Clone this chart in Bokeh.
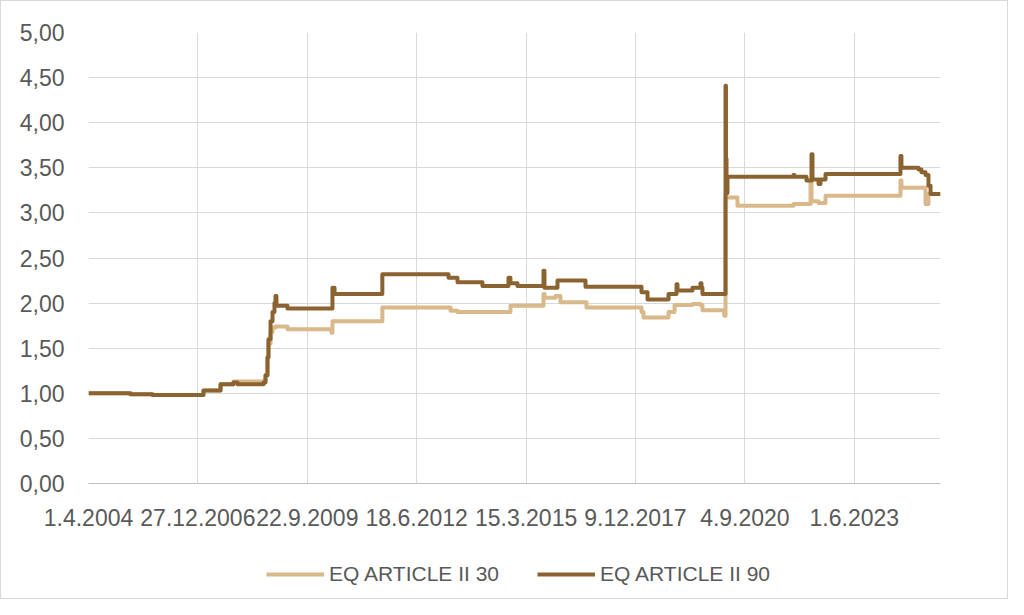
import pandas as pd
from bokeh.plotting import figure
from bokeh.layouts import column
from bokeh.models import Range1d, FixedTicker, Legend, LegendItem
from bokeh.embed import file_html
from bokeh.resources import INLINE

# ---- data ----
dates_30 = ["2004-04-01", "2005-04-20", "2005-11-07", "2007-02-16", "2007-07-22", "2007-11-17",
            "2008-08-18", "2008-09-05", "2008-09-23", "2008-10-02", "2008-10-21", "2008-11-08",
            "2008-12-05", "2009-03-25", "2010-05-01", "2010-05-10", "2011-08-09", "2013-04-23",
            "2013-06-26", "2014-10-23", "2015-08-21", "2015-08-30", "2015-12-09", "2016-01-23",
            "2016-09-17", "2018-02-02", "2018-02-20", "2018-10-07", "2018-12-01", "2019-05-14",
            "2019-07-26", "2019-08-13", "2020-02-28", "2020-03-11", "2020-06-28", "2021-11-22",
            "2022-04-27", "2022-05-06", "2022-07-09", "2022-09-11", "2024-07-27", "2024-08-05",
            "2025-03-13", "2025-04-09", "2025-07-28"]
values_30 = [1.00, 0.99, 0.98, 1.03, 1.10, 1.13,
             1.14, 1.20, 1.40, 1.55, 1.68, 1.73,
             1.74, 1.71, 1.67, 1.80, 1.95, 1.915,
             1.90, 1.97, 2.10, 2.06, 2.08, 2.01,
             1.95, 1.90, 1.84, 1.90, 1.98, 1.99,
             1.98, 1.92, 1.86, 3.17, 3.08, 3.10,
             3.36, 3.13, 3.11, 3.19, 3.36, 3.28,
             3.10, 3.21, 3.21]

dates_90 = ["2004-04-01", "2005-04-20", "2005-11-07", "2007-02-16", "2007-07-22", "2007-11-17",
            "2007-12-24", "2008-08-18", "2008-09-05", "2008-09-23", "2008-10-02", "2008-10-21",
            "2008-11-08", "2008-11-26", "2008-12-05", "2008-12-14", "2009-03-25", "2010-05-10",
            "2010-05-29", "2011-08-09", "2013-04-05", "2013-06-26", "2014-02-09", "2014-10-05",
            "2014-10-23", "2014-12-26", "2015-08-21", "2015-08-30", "2015-12-27", "2016-09-08",
            "2018-02-02", "2018-03-29", "2018-10-07", "2018-12-19", "2018-12-28", "2019-05-14",
            "2019-07-26", "2019-08-04", "2019-08-13", "2020-03-11", "2020-03-15", "2020-03-20",
            "2020-03-29", "2021-11-22", "2021-12-01", "2022-03-21", "2022-05-06", "2022-05-15",
            "2022-07-09", "2022-07-27", "2022-09-11", "2024-07-27", "2024-08-05", "2025-01-08",
            "2025-02-04", "2025-03-13", "2025-04-09", "2025-04-28", "2025-07-28"]
values_90 = [1.00, 0.99, 0.98, 1.03, 1.10, 1.12,
             1.10, 1.12, 1.20, 1.40, 1.60, 1.80,
             1.90, 2.00, 2.08, 1.97, 1.94, 2.17,
             2.10, 2.32, 2.28, 2.23, 2.19, 2.28,
             2.22, 2.19, 2.36, 2.17, 2.25, 2.18,
             2.12, 2.04, 2.10, 2.21, 2.14, 2.17,
             2.22, 2.17, 2.10, 4.41, 3.60, 3.22,
             3.40, 3.42, 3.40, 3.36, 3.65, 3.37,
             3.32, 3.37, 3.43, 3.63, 3.50, 3.48,
             3.45, 3.42, 3.30, 3.21, 3.21]

series_names = ["EQ ARTICLE II 30", "EQ ARTICLE II 90"]

x_tick_dates = ["2004-04-01", "2006-12-27", "2009-09-22", "2012-06-18",
                "2015-03-15", "2017-12-09", "2020-09-04", "2023-06-01"]
x_tick_labels = ["1.4.2004", "27.12.2006", "22.9.2009", "18.6.2012",
                 "15.3.2015", "9.12.2017", "4.9.2020", "1.6.2023"]
y_ticks = [0.0, 0.5, 1.0, 1.5, 2.0, 2.5, 3.0, 3.5, 4.0, 4.5, 5.0]
y_tick_labels = ["0,00", "0,50", "1,00", "1,50", "2,00", "2,50",
                 "3,00", "3,50", "4,00", "4,50", "5,00"]

# ---- styling ----
FONT = "Liberation Sans"
TXT = "#595959"
GRID = "#D9D9D9"
C30 = "#D9B88A"
C90 = "#8B6330"
COLORS = [C30, C90]

x30 = pd.to_datetime(dates_30)
x90 = pd.to_datetime(dates_90)
xt = pd.to_datetime(x_tick_dates)
xt_ms = [int(t.value // 10**6) for t in xt]

# ---- main chart ----
p = figure(frame_width=852, frame_height=451,
           x_axis_type="datetime", output_backend="svg", toolbar_location=None,
           x_range=Range1d(pd.Timestamp("2004-04-01"), pd.Timestamp("2025-07-28")),
           y_range=Range1d(0, 5),
           min_border_left=87, min_border_right=67, min_border_top=31, min_border_bottom=60)
p.outline_line_color = None
p.background_fill_color = "white"
p.border_fill_color = "white"

p.step(x30, values_30, mode="after", line_color=C30, line_width=4, line_join="round")
p.step(x90, values_90, mode="after", line_color=C90, line_width=4, line_join="round")

p.xaxis.ticker = FixedTicker(ticks=xt_ms)
p.xaxis.major_label_overrides = {ms: lab for ms, lab in zip(xt_ms, x_tick_labels)}
p.yaxis.ticker = FixedTicker(ticks=y_ticks)
p.yaxis.major_label_overrides = {v: lab for v, lab in zip(y_ticks, y_tick_labels)}

for ax in (p.xaxis[0], p.yaxis[0]):
    ax.major_tick_line_color = None
    ax.minor_tick_line_color = None
    ax.major_tick_out = 0
    ax.major_tick_in = 0
    ax.major_label_text_font = FONT
    ax.major_label_text_font_size = "23px"
    ax.major_label_text_color = TXT
p.xaxis.axis_line_color = "#BFBFBF"
p.xaxis.axis_line_width = 1
p.yaxis.axis_line_color = None
p.xaxis.major_label_standoff = 25
p.yaxis.major_label_standoff = 24

p.xgrid.ticker = FixedTicker(ticks=xt_ms)
p.ygrid.ticker = FixedTicker(ticks=y_ticks)
p.xgrid.grid_line_color = GRID
p.ygrid.grid_line_color = GRID
p.xgrid.grid_line_width = 1
p.ygrid.grid_line_width = 1

# ---- legend strip (below the chart) ----
main_h = 31 + 451 + 60
lg = figure(width=1006, height=597 - main_h, output_backend="svg", toolbar_location=None,
            x_axis_location=None, y_axis_location=None,
            x_range=Range1d(0, 1), y_range=Range1d(0, 1), min_border=0)
lg.outline_line_color = None
lg.grid.visible = False
lg.border_fill_color = "white"
lg_items = []
for name, col in zip(series_names, COLORS):
    # proxy renderer kept outside the visible range; only its legend swatch shows
    r = lg.line(x=[5, 6], y=[5, 6], line_color=col, line_width=4)
    lg_items.append(LegendItem(label=name, renderers=[r]))
legend = Legend(items=lg_items, location=(178, 12), orientation="horizontal",
                label_text_font=FONT, label_text_font_size="21px", label_text_color=TXT,
                glyph_width=58, glyph_height=20, label_standoff=5, spacing=38,
                padding=0, margin=0, border_line_color=None, background_fill_alpha=0)
lg.add_layout(legend, "center")

layout = column(p, lg, spacing=0, styles={"border": "1px solid #D9D9D9"})

open("out.html", "w").write(file_html(layout, INLINE))
